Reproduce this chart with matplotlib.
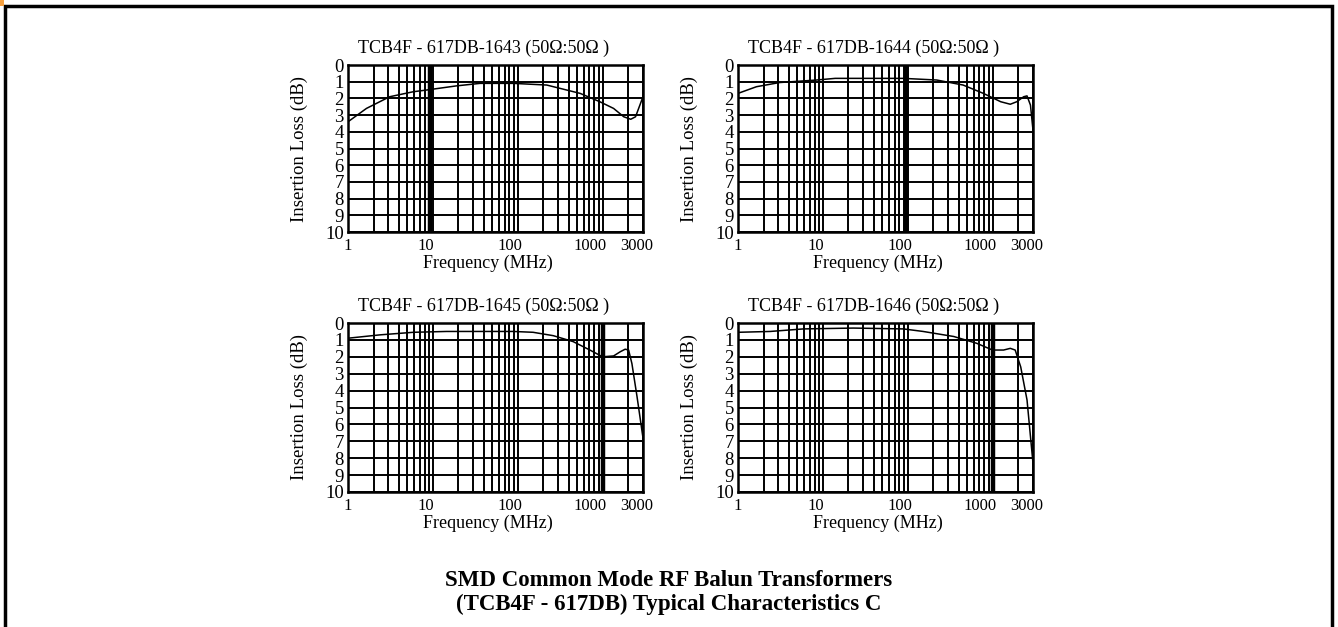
import numpy as np
import matplotlib.pyplot as plt
from matplotlib.patches import Rectangle
from matplotlib.transforms import ScaledTranslation

plt.rcParams['font.family'] = ['Liberation Serif', 'DejaVu Serif']

## data (frequency in MHz, insertion loss in dB)
titles = ['TCB4F - 617DB-1643 (50\u03a9:50\u03a9 )',
          'TCB4F - 617DB-1644 (50\u03a9:50\u03a9 )',
          'TCB4F - 617DB-1645 (50\u03a9:50\u03a9 )',
          'TCB4F - 617DB-1646 (50\u03a9:50\u03a9 )']

f1643 = [1, 1.65, 3.1, 5.9, 8.4, 19, 36, 89, 220, 545, 930, 1350, 1780, 2150, 2450, 3000]
il1643 = [3.4, 2.6, 1.9, 1.6, 1.5, 1.25, 1.1, 1.1, 1.2, 1.7, 2.2, 2.6, 3.1, 3.25, 3.1, 1.9]

f1644 = [1, 1.65, 3.1, 8.4, 14, 89, 220, 450, 780, 1250, 1620, 1930, 2330, 2550, 2800, 3000]
il1644 = [1.7, 1.3, 1.05, 0.9, 0.8, 0.8, 0.9, 1.2, 1.7, 2.2, 2.35, 2.2, 1.9, 1.85, 2.4, 3.9]

f1645 = [1, 2.4, 5.9, 14.5, 89, 152, 263, 450, 710, 1000, 1350, 1620, 1850, 2030, 2220, 2550, 3000]
il1645 = [0.9, 0.7, 0.55, 0.5, 0.5, 0.55, 0.75, 1.1, 1.6, 2.0, 1.95, 1.7, 1.55, 1.6, 2.4, 4.35, 6.8]

f1646 = [1, 2.4, 5.9, 23, 89, 152, 350, 650, 1000, 1350, 1620, 1850, 2150, 2550, 3000]
il1646 = [0.55, 0.5, 0.35, 0.3, 0.35, 0.5, 0.8, 1.2, 1.6, 1.6, 1.5, 1.6, 2.6, 4.55, 8.3]

freqs = [f1643, f1644, f1645, f1646]
losses = [il1643, il1644, il1645, il1646]

x_ticks = [1, 10, 100, 1000, 3000]
x_tick_labels = ['1', '10', '100', '1000', '3000']
y_ticks = list(range(0, 11))
grid_x = [m * 10 ** k for k in range(3) for m in range(1, 10)] + [1000, 2000, 3000]
heavy_x = [9.3, 95, 1000, 1000]
# the labels in the scan sit a little left of their grid lines (pixels)
label_shift = [0, -7, -8, -12, -6]

W, H = 1338, 627
fig = plt.figure(figsize=(W / 100, H / 100), dpi=100)

# page frame and the little orange corner
fig.patches.append(Rectangle((5 / W, -0.1), 1327 / W, 1.1 - 6 / H, transform=fig.transFigure,
                             fill=False, edgecolor='black', linewidth=2.5))
fig.patches.append(Rectangle((0, 1 - 6 / H), 4 / W, 6 / H, transform=fig.transFigure,
                             facecolor='#f5a040', edgecolor='none'))

boxes = [(348, 65, 643, 232), (738, 65, 1033, 232),
         (348, 323, 643, 492), (738, 323, 1033, 492)]

for i, (l, t, r, b) in enumerate(boxes):
    ax = fig.add_axes([l / W, 1 - b / H, (r - l) / W, (b - t) / H])
    ax.set_xscale('log')
    ax.set_xlim(1, 3000)
    ax.set_ylim(10, 0)
    for gx in grid_x:
        ax.axvline(gx, color='black', lw=1.4, zorder=1)
    for gy in y_ticks:
        ax.axhline(gy, color='black', lw=1.4, zorder=1)
    ax.axvline(heavy_x[i], color='black', lw=3.2, zorder=1)
    ax.plot(freqs[i], losses[i], color='black', lw=1.1, zorder=3)
    ax.set_xticks(x_ticks)
    ax.set_xticklabels(x_tick_labels, fontsize=12)
    ax.minorticks_off()
    ax.set_yticks(y_ticks)
    ax.set_yticklabels([str(v) for v in y_ticks], fontsize=13.5)
    ax.tick_params(length=0, pad=3)
    ax.tick_params(axis='x', pad=4)
    for lab, dx in zip(ax.get_xticklabels(), label_shift):
        lab.set_transform(lab.get_transform() + ScaledTranslation(dx / 100, 0, fig.dpi_scale_trans))
    for s in ax.spines.values():
        s.set_linewidth(1.8)
    ax.set_title(titles[i], fontsize=13, pad=9, x=0.458)
    ax.set_xlabel('Frequency (MHz)', fontsize=13, labelpad=1, x=0.475)
    ax.set_ylabel('Insertion Loss (dB)', fontsize=13.5, labelpad=12)

fig.text(669 / W, 1 - 581 / H, 'SMD Common Mode RF Balun Transformers',
         ha='center', va='center', fontsize=16.5, fontweight='bold')
fig.text(669 / W, 1 - 604 / H, '(TCB4F - 617DB) Typical Characteristics C',
         ha='center', va='center', fontsize=16.5, fontweight='bold')

plt.savefig('out.png', dpi=100)
